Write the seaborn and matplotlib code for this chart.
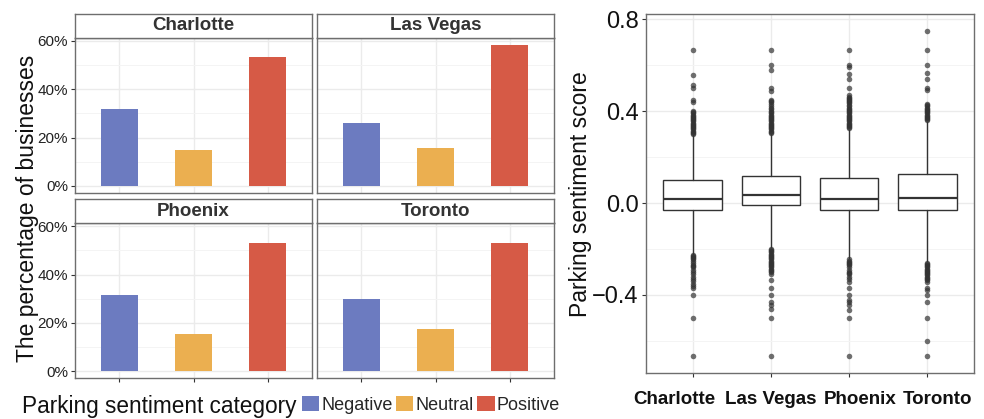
import matplotlib
matplotlib.use('Agg')
import matplotlib.pyplot as plt
from matplotlib.patches import Patch
from matplotlib.transforms import ScaledTranslation, blended_transform_factory
import seaborn as sns
import pandas as pd

# ---------------- data ----------------
cities = ['Charlotte', 'Las Vegas', 'Phoenix', 'Toronto']
categories = ['Negative', 'Neutral', 'Positive']
cat_colors = ['#6C7BC0', '#EBAF50', '#D65A46']

pct_charlotte = [31.8, 14.9, 53.2]
pct_las_vegas = [26.0, 15.7, 58.3]
pct_phoenix = [31.5, 15.6, 53.1]
pct_toronto = [29.9, 17.3, 53.1]

pct_ticks = [0, 20, 40, 60]
pct_tick_labels = ['0%', '20%', '40%', '60%']

# box-plot summary statistics (per city, in order of `cities`)
box_q1 = [-0.030, -0.009, -0.031, -0.030]
box_median = [0.016, 0.035, 0.016, 0.020]
box_q3 = [0.099, 0.117, 0.110, 0.125]
box_whisker_low = [-0.220, -0.192, -0.238, -0.252]
box_whisker_high = [0.294, 0.300, 0.318, 0.352]

outliers_charlotte = [0.667, 0.556, 0.515, 0.500, 0.450, 0.440, 0.400, 0.395, 0.390,
                      0.385, 0.380, 0.375, 0.370, 0.365, 0.360, 0.355, 0.350, 0.345,
                      0.340, 0.335, 0.330, 0.325, 0.320, 0.315, 0.310, 0.305, 0.300,
                      -0.225, -0.230, -0.235, -0.240, -0.245, -0.250, -0.260, -0.270,
                      -0.275, -0.280, -0.290, -0.300, -0.310, -0.320, -0.330, -0.340,
                      -0.350, -0.360, -0.368, -0.400, -0.500, -0.667]
outliers_las_vegas = [0.667, 0.600, 0.580, 0.500, 0.487, 0.450, 0.445, 0.440, 0.430,
                      0.420, 0.415, 0.410, 0.400, 0.395, 0.390, 0.385, 0.380, 0.375,
                      0.370, 0.365, 0.360, 0.355, 0.350, 0.345, 0.340, 0.335, 0.330,
                      0.325, 0.320, 0.315, 0.310, 0.305,
                      -0.198, -0.205, -0.210, -0.215, -0.220, -0.225, -0.230, -0.235,
                      -0.240, -0.245, -0.250, -0.255, -0.260, -0.265, -0.270, -0.275,
                      -0.280, -0.285, -0.290, -0.295, -0.300, -0.307, -0.336, -0.368,
                      -0.400, -0.430, -0.445, -0.463, -0.500, -0.667]
outliers_phoenix = [0.667, 0.600, 0.590, 0.563, 0.541, 0.500, 0.468, 0.463, 0.458,
                    0.453, 0.448, 0.443, 0.438, 0.433, 0.428, 0.420, 0.415, 0.410,
                    0.405, 0.400, 0.395, 0.390, 0.385, 0.380, 0.375, 0.370, 0.365,
                    0.360, 0.355, 0.350, 0.345, 0.340, 0.335, 0.330, 0.325,
                    -0.243, -0.250, -0.255, -0.260, -0.265, -0.270, -0.280, -0.290,
                    -0.300, -0.305, -0.310, -0.320, -0.330, -0.343, -0.368, -0.400,
                    -0.420, -0.432, -0.445, -0.465, -0.500, -0.667]
outliers_toronto = [0.750, 0.667, 0.600, 0.567, 0.540, 0.500, 0.490, 0.432, 0.425,
                    0.420, 0.415, 0.410, 0.405, 0.400, 0.395, 0.390, 0.385, 0.380,
                    0.375, 0.370, 0.365, 0.360,
                    -0.262, -0.265, -0.270, -0.275, -0.280, -0.285, -0.290, -0.295,
                    -0.300, -0.305, -0.310, -0.315, -0.320, -0.325, -0.330, -0.335,
                    -0.343, -0.368, -0.380, -0.400, -0.430, -0.500, -0.600, -0.667]

score_ticks = [-0.4, 0.0, 0.4, 0.8]
score_tick_labels = ['\u22120.4', '0.0', '0.4', '0.8']
score_minor_ticks = [-0.6, -0.2, 0.2, 0.6]

# ---------------- tables ----------------
pct_by_city = {'Charlotte': pct_charlotte, 'Las Vegas': pct_las_vegas,
               'Phoenix': pct_phoenix, 'Toronto': pct_toronto}
rows = []
for c in cities:
    for cat, v in zip(categories, pct_by_city[c]):
        rows.append({'city': c, 'category': cat, 'pct': v})
df = pd.DataFrame(rows)

outliers = [outliers_charlotte, outliers_las_vegas, outliers_phoenix, outliers_toronto]
box_stats = []
for i, c in enumerate(cities):
    box_stats.append(dict(label=c, q1=box_q1[i], med=box_median[i], q3=box_q3[i],
                          whislo=box_whisker_low[i], whishi=box_whisker_high[i],
                          fliers=outliers[i]))

# ---------------- style ----------------
sns.set_theme(style='white')
plt.rcParams['font.family'] = ['Liberation Sans', 'DejaVu Sans']

W, H = 984, 419
fig = plt.figure(figsize=(W / 100, H / 100), dpi=100)
fig.patch.set_facecolor('white')


def add_px_axes(x0, y0, x1, y1):
    return fig.add_axes([x0 / W, 1 - y1 / H, (x1 - x0) / W, (y1 - y0) / H])


GRID_MAJOR = '#EBEBEB'
GRID_MINOR = '#F4F4F4'
BORDER = '#6E6E6E'
TICKC = '#333333'

panel_boxes = {
    'Charlotte': (75, 38, 312, 193),
    'Las Vegas': (317, 38, 554, 193),
    'Phoenix': (75, 223.3, 312, 378.3),
    'Toronto': (317, 223.3, 554, 378.3),
}

for idx, c in enumerate(cities):
    x0, y0, x1, y1 = panel_boxes[c]
    ax = add_px_axes(x0, y0, x1, y1)
    sub = df[df['city'] == c]
    sns.barplot(data=sub, x='category', y='pct', hue='category', order=categories,
                hue_order=categories, palette=cat_colors, width=0.5, saturation=1,
                linewidth=0, legend=False, ax=ax, zorder=3)
    ax.set_xlim(-0.6, 2.6)
    ax.set_ylim(-2.9, 61.2)
    ax.set_yticks(pct_ticks)
    ax.set_yticks([10, 30, 50], minor=True)
    ax.grid(True, which='major', color=GRID_MAJOR, lw=1.0, zorder=0)
    ax.grid(True, which='minor', axis='y', color=GRID_MINOR, lw=0.7, zorder=0)
    ax.set_axisbelow(True)
    ax.set_xlabel('')
    ax.set_ylabel('')
    for s in ax.spines.values():
        s.set_color(BORDER)
        s.set_linewidth(1.0)
    left_col = idx % 2 == 0
    bottom_row = idx >= 2
    if left_col:
        ax.set_yticklabels(pct_tick_labels)
        ax.tick_params(axis='y', which='major', left=True, length=3, width=0.8,
                       color=TICKC, labelsize=11, labelcolor='#222222', pad=2)
    else:
        ax.tick_params(axis='y', which='major', left=False, labelleft=False)
    ax.tick_params(axis='y', which='minor', left=False)
    ax.tick_params(axis='x', labelbottom=False, bottom=bottom_row, length=3,
                   width=0.8, color=TICKC)

    # facet strip
    sax = add_px_axes(x0, y0 - 24, x1, y0)
    sax.set_facecolor('white')
    sax.set_xticks([])
    sax.set_yticks([])
    for s in sax.spines.values():
        s.set_color(BORDER)
        s.set_linewidth(1.0)
    sax.text(0.5, 0.5, c, transform=sax.transAxes, ha='center', va='center',
             fontsize=13.5, fontweight='bold', color='#333333')

# ---------------- box panel ----------------
bax = add_px_axes(645.7, 14.3, 974.3, 372.7)
bax.bxp(box_stats, positions=list(range(len(cities))), widths=0.75, showcaps=False,
        patch_artist=True,
        boxprops=dict(facecolor='white', edgecolor='#333333', linewidth=1.0),
        medianprops=dict(color='#333333', linewidth=1.6),
        whiskerprops=dict(color='#333333', linewidth=1.0),
        flierprops=dict(marker='o', markerfacecolor='#333333', markeredgecolor='none',
                        markersize=4.0, alpha=0.7))
bax.set_xlim(-0.6, 3.6)
bax.set_ylim(-0.738, 0.821)
bax.set_xticks(list(range(len(cities))))
bax.set_xticklabels([])
# city labels, nudged sideways as in the reference so they do not collide
label_shift_px = [-18.3, 0.0, 10.6, 10.0]
xlab_tr = blended_transform_factory(bax.transData, bax.transAxes)
for i, (c, dx) in enumerate(zip(cities, label_shift_px)):
    bax.text(i, 0, c, ha='center', va='baseline', fontsize=13.5, fontweight='bold',
             color='#111111',
             transform=xlab_tr + ScaledTranslation(dx / 100, -31.5 / 100, fig.dpi_scale_trans))
bax.set_yticks(score_ticks)
bax.set_yticklabels(score_tick_labels, fontsize=17, color='#111111')
bax.set_yticks(score_minor_ticks, minor=True)
bax.grid(True, which='major', color=GRID_MAJOR, lw=1.0, zorder=0)
bax.grid(True, which='minor', axis='y', color=GRID_MINOR, lw=0.7, zorder=0)
bax.set_axisbelow(True)
bax.tick_params(axis='both', which='major', length=3, width=0.8, color=TICKC)
bax.tick_params(axis='y', pad=2, left=True)
bax.tick_params(axis='x', bottom=True)
bax.tick_params(which='minor', left=False)
for s in bax.spines.values():
    s.set_color(BORDER)
    s.set_linewidth(1.0)

# ---------------- labels & legend ----------------
fig.text(28 / W, 1 - 208 / H, 'The percentage of businesses', rotation=90,
         ha='center', va='center', fontsize=16.5, color='#111111')
fig.text(581 / W, 1 - 194 / H, 'Parking sentiment score', rotation=90,
         ha='center', va='center', fontsize=16.5, color='#111111')
fig.text(22 / W, 1 - 413 / H, 'Parking sentiment category', ha='left',
         va='baseline', fontsize=16.3, color='#111111')

handles = [Patch(facecolor=col, edgecolor='none', label=lab)
           for col, lab in zip(cat_colors, categories)]
fig.legend(handles=handles, loc='center left', bbox_to_anchor=(302 / W, 1 - 405 / H),
           ncol=3, frameon=False, fontsize=13, handlelength=0.95, handleheight=0.9,
           handletextpad=0.12, columnspacing=0.2, borderpad=0, borderaxespad=0)

fig.savefig('out.png', dpi=100, facecolor='white')
